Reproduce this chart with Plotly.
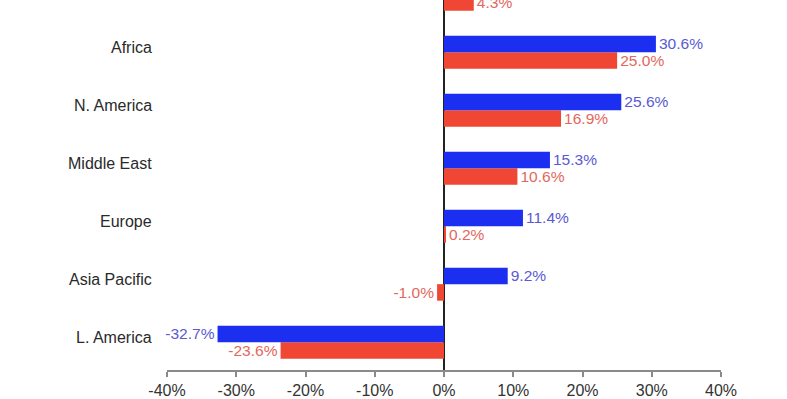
import plotly.graph_objects as go

# categories listed bottom -> top
regions = ["L. America", "Asia Pacific", "Europe", "Middle East", "N. America", "Africa", "Global"]
blue_vals = [-32.7, 9.2, 11.4, 15.3, 25.6, 30.6, None]
red_vals = [-23.6, -1.0, 0.2, 10.6, 16.9, 25.0, 4.3]
x_ticks = [-40, -30, -20, -10, 0, 10, 20, 30, 40]
x_tick_labels = ["-40%", "-30%", "-20%", "-10%", "0%", "10%", "20%", "30%", "40%"]

BLUE = "#1c2ef0"
RED = "#ef4733"
FONT = "Liberation Sans, Arial, sans-serif"
FS = 16


def fmt(vals):
    return [("" if v is None else f"{v:.1f}%") for v in vals]


fig = go.Figure()
fig.add_trace(go.Bar(
    y=regions, x=red_vals, orientation="h", marker_color=RED, marker_line_width=0,
    text=fmt(red_vals), textposition="outside", cliponaxis=False,
    textfont=dict(color="#e3675c", size=FS, family=FONT), name="red",
))
fig.add_trace(go.Bar(
    y=regions, x=blue_vals, orientation="h", marker_color=BLUE, marker_line_width=0,
    text=fmt(blue_vals), textposition="outside", cliponaxis=False,
    textfont=dict(color="#5a5ad2", size=FS, family=FONT), name="blue",
))

# category labels (slightly above group centre, as in the reference)
for r in regions:
    fig.add_annotation(
        x=0, xref="paper", y=r, yref="y", text=r, showarrow=False,
        xanchor="right", xshift=-13, yshift=5,
        font=dict(size=FS, color="#2a2a2a", family=FONT),
    )

fig.update_layout(
    width=787, height=399,
    margin=dict(l=167, r=66, t=0, b=29),
    barmode="group", bargap=0.43, bargroupgap=0,
    showlegend=False,
    plot_bgcolor="white", paper_bgcolor="white",
    font=dict(family=FONT, size=FS, color="#333333"),
)
fig.update_xaxes(
    range=[-40, 40], tickvals=x_ticks, ticktext=x_tick_labels,
    showgrid=False, showline=True, linecolor="#8a8a8a", linewidth=1.5,
    ticks="outside", ticklen=5, tickcolor="#8a8a8a", tickwidth=1.5,
    zeroline=True, zerolinecolor="#222222", zerolinewidth=1.5,
    tickfont=dict(size=FS, color="#333333"),
)
fig.update_yaxes(
    type="category", categoryorder="array", categoryarray=regions,
    range=[-0.48, 5.9], showgrid=False, showline=False, zeroline=False,
    ticks="", showticklabels=False,
)

fig.write_html(
    "out.html",
    config={"displayModeBar": False},
    post_script="document.body.style.margin='0';",
)
